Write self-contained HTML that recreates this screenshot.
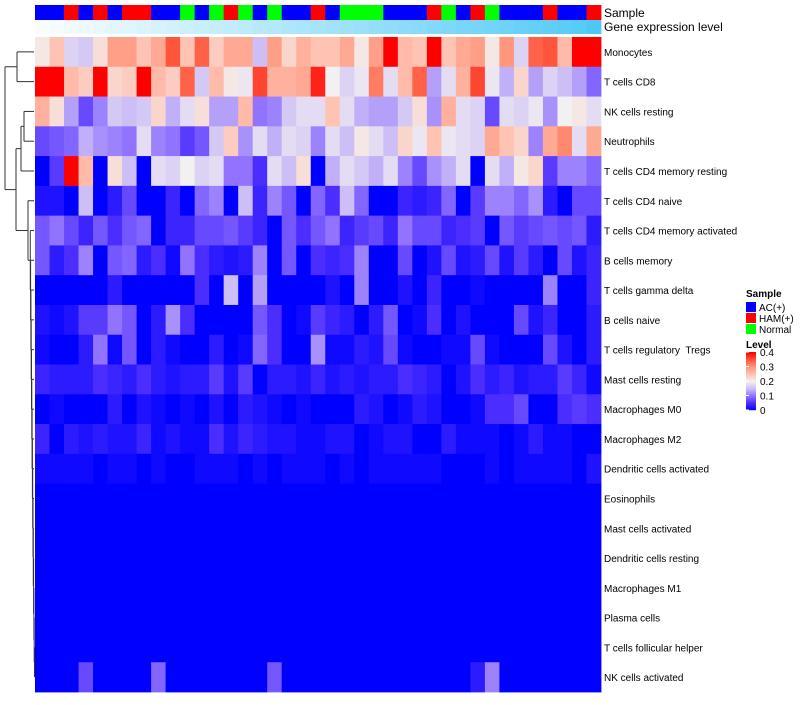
<!DOCTYPE html>
<html><head><meta charset="utf-8">
<style>
html,body{margin:0;padding:0;background:#fff;}
body{width:800px;height:700px;overflow:hidden;font-family:"Liberation Sans",sans-serif;}
svg text{font-family:"Liberation Sans",sans-serif;}
</style></head>
<body>
<svg id="chart" width="800" height="700" xmlns="http://www.w3.org/2000/svg">
  <g id="dendro"></g>
  <g id="annot"></g>
  <g id="cells"></g>
  <g id="rowlabels"></g>
  <text x="604" y="17" font-size="12">Sample</text>
  <text x="604" y="31" font-size="12">Gene expression level</text>
  <g>
    <text x="746" y="297" font-size="10" font-weight="bold">Sample</text>
    <rect x="746" y="302" width="10" height="10" fill="#0000ff"/>
    <text x="759" y="311" font-size="10">AC(+)</text>
    <rect x="746" y="313" width="10" height="10" fill="#ff0000"/>
    <text x="759" y="322" font-size="10">HAM(+)</text>
    <rect x="746" y="324" width="10" height="10" fill="#00ff00"/>
    <text x="759" y="333" font-size="10">Normal</text>
    <text x="746" y="348" font-size="10" font-weight="bold">Level</text>
    <g id="colorbar"></g>
  </g>
</svg>
<script>
const rowNames = ["Monocytes","T cells CD8","NK cells resting","Neutrophils","T cells CD4 memory resting","T cells CD4 naive","T cells CD4 memory activated","B cells memory","T cells gamma delta","B cells naive","T cells regulatory  Tregs","Mast cells resting","Macrophages M0","Macrophages M2","Dendritic cells activated","Eosinophils","Mast cells activated","Dendritic cells resting","Macrophages M1","Plasma cells","T cells follicular helper","NK cells activated"];
const sampleGroups = ["A","A","H","A","H","A","H","H","A","A","N","A","N","H","N","A","N","A","A","H","A","N","N","N","A","A","A","H","N","A","H","N","A","A","A","H","A","A","H"];
const geneLevel = [0.00,0.03,0.05,0.08,0.10,0.13,0.15,0.18,0.20,0.23,0.25,0.28,0.30,0.33,0.35,0.38,0.40,0.43,0.45,0.48,0.50,0.53,0.55,0.58,0.60,0.63,0.65,0.68,0.70,0.73,0.75,0.78,0.80,0.83,0.85,0.88,0.90,0.93,1.00];
const levelTicks = ["0","0.1","0.2","0.3","0.4"];
const r1 = [.21,.25,.17,.16,.22,.29,.29,.25,.28,.35,.25,.34,.24,.28,.28,.15,.29,.23,.27,.25,.25,.28,.21,.29,.40,.26,.25,.40,.25,.28,.29,.21,.30,.17,.34,.35,.26,.40,.40];
const r2 = [.40,.40,.26,.24,.40,.23,.24,.40,.26,.24,.34,.16,.26,.21,.19,.36,.27,.27,.28,.38,.20,.17,.19,.32,.18,.26,.34,.13,.18,.27,.36,.19,.14,.23,.13,.17,.15,.13,.09];
const r3 = [.27,.22,.13,.07,.11,.16,.15,.16,.23,.14,.18,.22,.13,.13,.26,.10,.11,.16,.18,.18,.25,.18,.14,.13,.13,.16,.22,.12,.27,.18,.17,.07,.18,.17,.19,.12,.20,.21,.18];
const r4 = [.07,.08,.09,.14,.12,.11,.10,.18,.11,.10,.06,.08,.16,.24,.12,.18,.14,.18,.17,.11,.18,.15,.21,.18,.15,.23,.19,.25,.19,.18,.17,.28,.25,.23,.11,.28,.31,.18,.28];
const r5 = [0,.06,.40,.26,0,.22,.15,0,.18,.17,.20,.17,.18,.10,.10,.05,.18,.15,.22,0,.14,.18,.16,.14,.18,.11,.07,.12,.14,.18,0,.18,.14,.21,.23,.06,.11,.11,.09];
const r6 = [.02,.02,0,.15,0,.03,.07,0,0,.04,0,.09,.11,0,.15,.04,.11,.08,0,.09,.05,.15,.09,0,0,.04,.03,.04,.09,0,.06,.11,.11,.09,.12,.03,0,.07,.07];
const r7 = [.08,.10,.07,.04,.08,.05,.08,.09,0,.04,.04,.07,.07,.08,.06,.04,0,.08,.05,.08,.10,.04,.06,.07,.04,.10,.07,.07,.04,.05,.06,0,.08,.06,.07,.08,.07,.08,.03];
const r8 = [.08,.03,.05,.11,0,.08,.09,.03,.05,.01,.10,.05,.03,.02,.03,.11,0,.08,0,.05,.04,.05,.11,0,0,.07,0,.02,.07,.02,.03,.07,.02,.06,.03,0,.07,.02,.04];
const r9 = [0,0,0,0,0,.03,0,0,0,0,0,.05,0,.15,0,.13,0,0,0,0,.02,0,.11,0,0,.02,0,.04,0,0,.01,0,0,0,0,.11,0,0,.04];
const r10 = [.02,.01,.02,.06,.06,.10,.08,0,.03,.12,.05,0,0,0,0,.08,.05,0,.01,.06,.04,.03,0,.03,.08,0,.01,.05,0,.02,0,0,0,.07,.02,.04,0,0,.03];
const r11 = [.01,0,0,.03,.10,.01,.08,0,.03,.01,0,0,.03,0,.01,.09,.05,0,0,.12,.01,.01,.03,.02,.07,.01,0,0,.01,.01,.07,.01,0,0,0,.07,.02,0,.03];
const r12 = [.04,.03,.03,.03,.05,.04,.03,.05,.03,.02,.03,.03,.06,.02,.06,0,.03,.03,.02,.04,.02,.03,.02,.03,.03,.05,.04,.03,0,.02,.05,.03,.04,.02,.03,.03,.06,.04,.01];
const r13 = [0,.01,0,0,0,.03,0,.02,.01,0,.01,0,.02,0,.03,.02,.01,0,.01,0,0,0,.03,.02,0,.01,.03,.02,0,0,.01,.05,.05,.07,0,0,.05,.06,.05];
const r14 = [.04,0,.03,.02,.03,.02,.02,.04,.01,.02,.01,.01,.05,.02,.04,.03,.02,.02,.01,.01,.02,.02,0,.01,.02,.02,0,0,.03,.01,.01,.01,0,.01,.03,.01,.01,0,0];
const r15 = [.01,.01,.01,.01,0,.01,.01,0,.01,0,0,.01,.01,.01,0,.01,0,.01,.01,.01,0,.01,0,.01,.01,.01,.01,.01,0,0,0,.01,0,.01,.01,.01,.01,0,.02];
const r16 = [0,0,0,0,0,0,0,0,0,0,0,0,0,0,0,0,0,0,0,0,0,0,0,0,0,0,0,0,0,0,0,0,0,0,0,0,0,0,0];
const r17 = [0,0,0,0,0,0,0,0,0,0,0,0,0,0,0,0,0,0,0,0,0,0,0,0,0,0,0,0,0,0,0,0,0,0,0,0,0,0,0];
const r18 = [0,0,0,0,0,0,0,0,0,0,0,0,0,0,0,0,0,0,0,0,0,0,0,0,0,0,0,0,0,0,0,0,0,0,0,0,0,0,0];
const r19 = [0,0,0,0,0,0,0,0,0,0,0,0,0,0,0,0,0,0,0,0,0,0,0,0,0,0,0,0,0,0,0,0,0,0,0,0,0,0,0];
const r20 = [0,0,0,0,0,0,0,0,0,0,0,0,0,0,0,0,0,0,0,0,0,0,0,0,0,0,0,0,0,0,0,0,0,0,0,0,0,0,0];
const r21 = [0,0,0,0,0,0,0,0,0,0,0,0,0,0,0,0,0,0,0,0,0,0,0,0,0,0,0,0,0,0,0,0,0,0,0,0,0,0,0];
const r22 = [0,0,0,.07,0,0,0,0,.09,0,0,0,0,0,0,0,.08,0,0,0,0,0,0,0,0,0,0,0,0,0,.03,.11,0,0,0,0,0,0,0];
const values = [r1,r2,r3,r4,r5,r6,r7,r8,r9,r10,r11,r12,r13,r14,r15,r16,r17,r18,r19,r20,r21,r22];

const NS="http://www.w3.org/2000/svg";
const X0=35, X1=601, Y0=37, Y1=692;
const nCol=sampleGroups.length, nRow=rowNames.length;
const cw=(X1-X0)/nCol, rh=(Y1-Y0)/nRow;
const xPos=i=>X0+i*cw;
const yPos=j=>Y0+j*rh;
const yMid=j=>Y0+(j+0.5)*rh;
const stops=[[0,[0,0,255]],[0.05,[75,45,255]],[0.1,[145,115,255]],[0.15,[205,190,245]],[0.2,[242,240,240]],[0.25,[255,195,180]],[0.3,[255,150,125]],[0.35,[255,85,60]],[0.4,[255,0,0]]];
function colorOf(v){
  v=Math.max(0,Math.min(0.4,v));
  for(let k=0;k<stops.length-1;k++){
    const a=stops[k],b=stops[k+1];
    if(v<=b[0]){const t=(v-a[0])/(b[0]-a[0]);
      const c=a[1].map((x,i)=>Math.round(x+(b[1][i]-x)*t));
      return `rgb(${c[0]},${c[1]},${c[2]})`;}
  }
  return "rgb(255,0,0)";
}
const groupColor={A:"#0000ff",H:"#ff0000",N:"#00ff00"};
function mk(tag,attrs,parent){const e=document.createElementNS(NS,tag);for(const k in attrs)e.setAttribute(k,attrs[k]);parent.appendChild(e);return e;}

const annot=document.getElementById('annot');
sampleGroups.forEach((g,i)=>{
  const r=mk('rect',{x:xPos(i),y:5,width:cw+0.4,height:15,fill:groupColor[g]},annot);
  
  
});
geneLevel.forEach((v,i)=>{
  const c=[Math.round(250-175*v),Math.round(253-53*v),Math.round(255-10*v)];
  const r=mk('rect',{x:xPos(i),y:20,width:cw+0.4,height:14,fill:`rgb(${c[0]},${c[1]},${c[2]})`},annot);
  
  
});

const cells=document.getElementById('cells');
values.forEach((row,j)=>{
  row.forEach((v,i)=>{
    const r=mk('rect',{x:xPos(i),y:yPos(j),width:cw+0.4,height:rh+0.4,fill:colorOf(v)},cells);
    
    
  });
});

const rl=document.getElementById('rowlabels');
rowNames.forEach((n,j)=>{
  const t=mk('text',{x:604,y:yMid(j)+4,'font-size':10,'xml:space':'preserve'},rl);
  t.style.whiteSpace='pre';
  t.textContent=n;
  
  
});

// colorbar
const cb=document.getElementById('colorbar');
const cbTop=352, cbBot=410;
for(let k=0;k<58;k++){
  const v=0.4*(1-k/58);
  const r=mk('rect',{x:746,y:cbTop+k,width:10,height:1.2,fill:colorOf(v)},cb);
  
  
}
levelTicks.forEach((t,k)=>{
  const y=cbBot-k*(cbBot-cbTop)/(levelTicks.length-1);
  const tx=mk('text',{x:760,y:y+4,'font-size':10},cb);
  tx.textContent=t;
  
  
  const l=mk('line',{x1:746,x2:749,y1:y,y2:y,stroke:'#fff','stroke-width':1},cb);
  
  
});

// dendrogram
const dg=document.getElementById('dendro');
function seg(x1,y1,x2,y2){
  const l=mk('line',{x1:x1,y1:y1,x2:x2,y2:y2,stroke:'#333','stroke-width':1},dg);
  
  
}
function join(x,ya,xa,yb,xb){seg(x,ya,xa,ya);seg(x,yb,xb,yb);seg(x,ya,x,yb);return (ya+yb)/2;}
const leaf=X0-1;
const yA=join(17,yMid(0),leaf,yMid(1),leaf);
const y34=join(24,yMid(2),leaf,yMid(3),leaf);
const yC=join(21,y34,24,yMid(4),leaf);
// chain of lower rows
let prevY=yMid(nRow-1), prevX=34.5;
for(let j=nRow-2;j>=6;j--){
  const x=Math.max(30,34.5-(nRow-2-j)*0.3);
  prevY=join(x,yMid(j),leaf,prevY,prevX);
  prevX=x;
}
const yD=join(28,yMid(5),leaf,prevY,prevX);
const yB=join(16,yC,21,yD,28);
join(5,yA,17,yB,16);
</script>
</body></html>
